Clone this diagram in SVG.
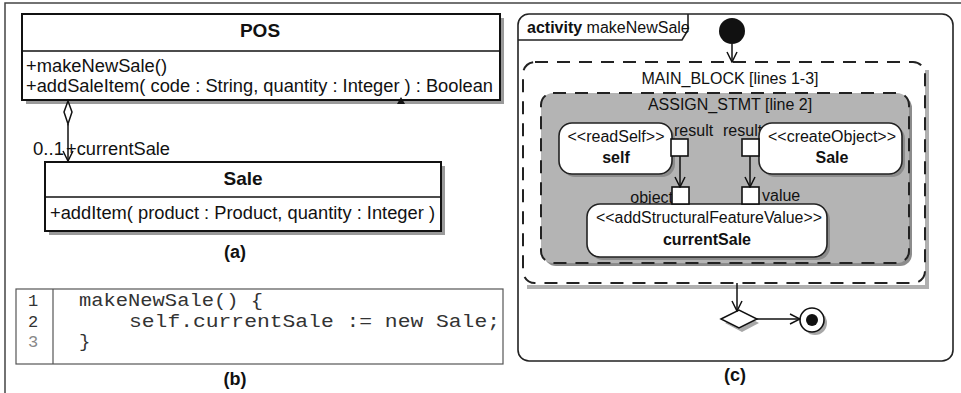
<svg xmlns="http://www.w3.org/2000/svg" width="961" height="393" viewBox="0 0 961 393">
  <style>
    .t { font-family: "Liberation Sans", Arial, sans-serif; font-size: 16px; fill: #111; }
    .c { font-size: 17.5px; }
    .title { font-size: 19px; }
    .cap { font-size: 18px; }
    .b { font-weight: bold; }
    .mono { font-family: "Liberation Mono", "Courier New", monospace; font-size: 19px; fill: #333; }
    .ln { font-size: 17px; }
    .box { fill: #fff; stroke: #111; stroke-width: 2; }
    .shadow { fill: #9a9a9a; }
    .line { fill: none; stroke: #111; stroke-width: 1.5; }
    .dash { fill: none; stroke: #222; stroke-width: 2; stroke-dasharray: 13 9; }
    .node { fill: #fff; stroke: #222; stroke-width: 1.6; }
    .pin { fill: #fff; stroke: #111; stroke-width: 1.6; }
  </style>
  <defs>
    <marker id="open" viewBox="0 0 12 12" refX="11" refY="6" markerWidth="12" markerHeight="12" markerUnits="userSpaceOnUse" orient="auto">
      <path d="M1,1 L11,6 L1,11" fill="none" stroke="#111" stroke-width="1.5"/>
    </marker>
  </defs>

  <rect width="961" height="393" fill="#fff"/>
  <!-- outer page rules -->
  <path d="M5,393 L5,3 L961,3" fill="none" stroke="#444" stroke-width="1.5"/>

  <!-- ===== (a) class diagram ===== -->
  <g id="class-POS">
    <rect class="shadow" x="26" y="18" width="478" height="86"/>
    <rect class="box" x="22" y="14" width="478" height="86"/>
    <line x1="22" y1="51" x2="500" y2="51" stroke="#111" stroke-width="1.5"/>
    <text class="t b title" x="260" y="37" text-anchor="middle">POS</text>
    <text class="t c" x="26" y="72" textLength="141" lengthAdjust="spacingAndGlyphs">+makeNewSale()</text>
    <text class="t c" x="26" y="92" textLength="467" lengthAdjust="spacingAndGlyphs">+addSaleItem( code : String, quantity : Integer ) : Boolean</text>
  </g>

  <g id="class-Sale">
    <rect class="shadow" x="49" y="166" width="396" height="69"/>
    <rect class="box" x="45" y="162" width="396" height="69"/>
    <line x1="45" y1="197" x2="441" y2="197" stroke="#111" stroke-width="1.5"/>
    <text class="t b title" x="243" y="185" text-anchor="middle">Sale</text>
    <text class="t c" x="50" y="219" textLength="385" lengthAdjust="spacingAndGlyphs">+addItem( product : Product, quantity : Integer )</text>
  </g>

  <g id="class-connectors">
    <line class="line" x1="68" y1="124" x2="68" y2="161" marker-end="url(#open)"/>
    <polygon points="68,101 72,112 68,124 64,112" fill="#fff" stroke="#111" stroke-width="1.5"/>
    <polygon points="397,104 405,104 401,97" fill="#111"/>
    <text class="t c" x="33" y="155" textLength="31" lengthAdjust="spacingAndGlyphs">0..1</text>
    <text class="t c" x="66" y="155" textLength="104" lengthAdjust="spacingAndGlyphs">+currentSale</text>
  </g>
  <text class="t b cap" x="235" y="258" text-anchor="middle">(a)</text>

  <!-- ===== (b) source listing ===== -->
  <g id="code">
    <rect x="16" y="289" width="487" height="75" fill="#fff" stroke="#555" stroke-width="1.2"/>
    <line x1="53" y1="289" x2="53" y2="364" stroke="#555" stroke-width="1.2"/>
    <text class="mono ln" x="33" y="306" text-anchor="middle">1</text>
    <text class="mono ln" x="33" y="327" text-anchor="middle">2</text>
    <text class="mono ln" x="33" y="347" text-anchor="middle" style="fill:#888">3</text>
    <text class="mono" x="79" y="306" textLength="184" lengthAdjust="spacingAndGlyphs">makeNewSale() {</text>
    <text class="mono" x="129" y="327" textLength="371" lengthAdjust="spacingAndGlyphs">self.currentSale := new Sale;</text>
    <text class="mono" x="79" y="347">}</text>
  </g>
  <text class="t b cap" x="235" y="385" text-anchor="middle">(b)</text>

  <!-- ===== (c) activity diagram ===== -->
  <g id="frame">
    <rect x="518" y="14" width="435" height="347" rx="11" fill="#fff" stroke="#222" stroke-width="1.6"/>
    <path d="M518,40 L682,40 L688,30 L688,14" fill="none" stroke="#222" stroke-width="1.6"/>
    <text class="t" x="527" y="33"><tspan class="b">activity</tspan> makeNewSale</text>
  </g>

  <g id="initial">
    <circle cx="732" cy="31" r="13" fill="#111"/>
  </g>

  <g id="main-block">
    <path d="M927,70 L927,287 L527,287" fill="none" stroke="#b0b0b0" stroke-width="4"/>
    <rect class="dash" x="523" y="62" width="402" height="221" rx="12"/>
    <text class="t" x="730" y="84" text-anchor="middle">MAIN_BLOCK [lines 1-3]</text>
  </g>

  <g id="assign-stmt">
    <rect x="544" y="96" width="368" height="170" rx="12" fill="#8c8c8c"/>
    <rect x="541" y="93" width="368" height="170" rx="12" fill="#b4b4b4" stroke="#222" stroke-width="2" stroke-dasharray="13 9"/>
    <text class="t" x="730" y="110" text-anchor="middle">ASSIGN_STMT [line 2]</text>
  </g>

  <g id="pin-labels">
    <text class="t" x="674" y="136">result</text>
    <text class="t" x="723" y="136">result</text>
    <text class="t" x="673" y="203" text-anchor="end">object</text>
    <text class="t" x="762" y="201">value</text>
  </g>

  <g id="readSelf">
    <rect x="562" y="126" width="113" height="51" rx="13" fill="#8c8c8c"/>
    <rect class="node" x="559" y="123" width="113" height="51" rx="13"/>
    <text class="t" x="616" y="142" text-anchor="middle">&lt;&lt;readSelf&gt;&gt;</text>
    <text class="t b" x="616" y="163" text-anchor="middle">self</text>
    <rect class="pin" x="671" y="139" width="17" height="17"/>
  </g>

  <g id="createObject">
    <rect x="762" y="126" width="143" height="51" rx="13" fill="#8c8c8c"/>
    <rect class="node" x="759" y="123" width="143" height="51" rx="13"/>
    <text class="t" x="832" y="142" text-anchor="middle">&lt;&lt;createObject&gt;&gt;</text>
    <text class="t b" x="832" y="163" text-anchor="middle">Sale</text>
    <rect class="pin" x="742" y="139" width="17" height="17"/>
  </g>

  <g id="addStructuralFeatureValue">
    <rect x="590" y="207" width="240" height="53" rx="13" fill="#8c8c8c"/>
    <rect class="node" x="587" y="204" width="240" height="53" rx="13"/>
    <text class="t" x="709" y="223" text-anchor="middle" textLength="226" lengthAdjust="spacingAndGlyphs">&lt;&lt;addStructuralFeatureValue&gt;&gt;</text>
    <text class="t b" x="707" y="245" text-anchor="middle">currentSale</text>
    <rect class="pin" x="672" y="187" width="17" height="17"/>
    <rect class="pin" x="742" y="187" width="17" height="17"/>
  </g>

  <g id="decision">
    <polygon points="725,323 742,314 759,323 742,332" fill="#a8a8a8"/>
    <polygon points="721,319 739,310 757,319 739,328" fill="#fff" stroke="#111" stroke-width="1.5"/>
  </g>

  <g id="final">
    <circle cx="815" cy="323" r="12" fill="#a8a8a8"/>
    <circle cx="812" cy="320" r="12" fill="#fff" stroke="#111" stroke-width="1.6"/>
    <circle cx="812" cy="320" r="6" fill="#111"/>
  </g>

  <g id="connectors">
    <line class="line" x1="732" y1="44" x2="732" y2="62" marker-end="url(#open)"/>
    <line class="line" x1="680" y1="156" x2="680" y2="187" marker-end="url(#open)"/>
    <line class="line" x1="750" y1="156" x2="750" y2="187" marker-end="url(#open)"/>
    <line class="line" x1="737" y1="283" x2="737" y2="311" marker-end="url(#open)"/>
    <line class="line" x1="757" y1="319" x2="800" y2="319" marker-end="url(#open)"/>
  </g>
  <text class="t b cap" x="735" y="381" text-anchor="middle">(c)</text>
</svg>
